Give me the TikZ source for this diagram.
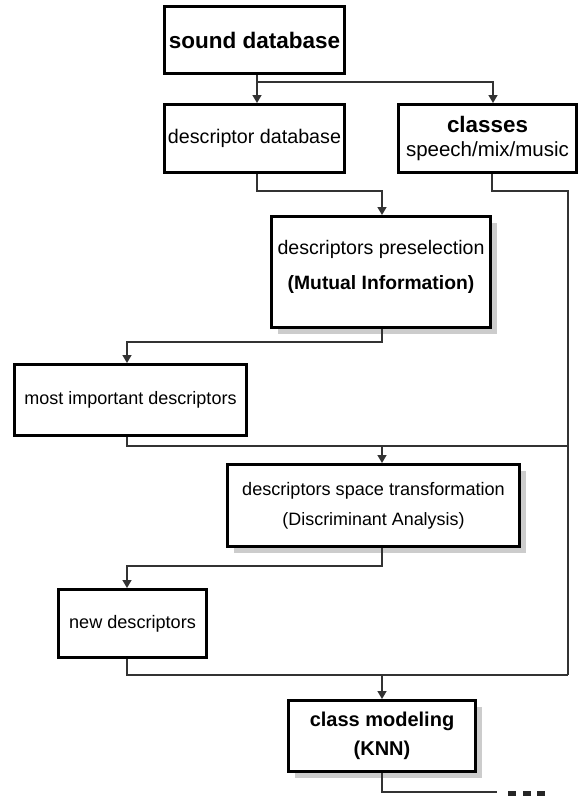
\documentclass[tikz,border=0pt]{standalone}
\usepackage{fontspec}
\setmainfont{Liberation Sans}
\usetikzlibrary{arrows.meta,shadows}
\definecolor{connc}{HTML}{333333}
\newcommand{\fs}[1]{\fontsize{#1}{#1}\selectfont}
\begin{document}
\begin{tikzpicture}[x=1pt,y=-1pt,
  box/.style={draw=black,line width=3pt,rectangle,inner sep=0pt,align=center,fill=white},
  shbox/.style={box,drop shadow={shadow xshift=6pt,shadow yshift=-6pt,fill=black!20,opacity=1}},
  line/.style={draw=connc,line width=1.6pt},
  arr/.style={line,-{Triangle[length=8pt,width=9pt]}}]
\useasboundingbox (0,0) rectangle (579,796);

% boxes
\node[box,minimum width=180pt,minimum height=67pt] (sound) at (254.5,40)
  {\fs{22.5}\bfseries sound database};
\node[box,minimum width=180pt,minimum height=68pt] (descdb) at (254.5,138.5)
  {\fs{19.7}descriptor database};
\node[box,minimum width=178pt,minimum height=68pt] (classes) at (487.5,138.5)
  {\fs{22.4}\bfseries classes\\[7pt]\fs{20.5}speech/mix/music};
\node[shbox,minimum width=219pt,minimum height=111pt] (presel) at (381,272)
  {\fs{19.6}descriptors preselection\\[16pt]\fs{19.3}\bfseries (Mutual Information)\\[2pt]\mbox{}};
\node[box,minimum width=232pt,minimum height=71pt] (mostimp) at (130.5,400)
  {\fs{18}most important descriptors};
\node[shbox,minimum width=292pt,minimum height=82pt] (DA) at (373.5,505.5)
  {\fs{18.1}descriptors space transformation\\[12pt]\fs{17.9}(Discriminant Analysis)};
\node[box,minimum width=148pt,minimum height=68pt] (newdesc) at (132.5,623.5)
  {\fs{18.1}new descriptors};
\node[shbox,minimum width=187pt,minimum height=71pt] (classmod) at (382,736)
  {\fs{20}\bfseries class modeling\\[9pt]\fs{20}\bfseries (KNN)};

% entry / exit points
\coordinate (soundout) at ([xshift=2.5pt]sound.south);
\coordinate (descin) at ([xshift=2.5pt]descdb.north);
\coordinate (descout) at ([xshift=2.5pt]descdb.south);
\coordinate (classin) at ([xshift=5.5pt]classes.north);
\coordinate (classout) at ([xshift=4.5pt]classes.south);
\coordinate (preselin) at ([xshift=1pt]presel.north);
\coordinate (preselout) at ([xshift=1pt]presel.south);
\coordinate (mostin) at ([xshift=-3.5pt]mostimp.north);
\coordinate (mostout) at ([xshift=-3.5pt]mostimp.south);
\coordinate (DAin) at ([xshift=8.5pt]DA.north);
\coordinate (DAout) at ([xshift=8.5pt]DA.south);
\coordinate (newin) at ([xshift=-5.5pt]newdesc.north);
\coordinate (newout) at ([xshift=-5.5pt]newdesc.south);
\coordinate (cmin) at (classmod.north);
\coordinate (cmout) at (classmod.south);
\coordinate (rtop) at (568,191);
\coordinate (rbot) at (568,675);
\coordinate (tail) at (497,792);

% connectors
\draw[arr] (soundout) -- (descin);
\draw[arr] (soundout) -- ++(0,7) -| (classin);
\draw[arr] (descout) -- ++(0,17) -| (preselin);
\draw[line] (classout) |- (rtop) -- (rbot);
\draw[arr] (preselout) -- ++(0,13) -| (mostin);
\draw[line] (mostout) -- ++(0,9) coordinate (m1) -- (m1 -| rtop);
\draw[arr] (DAin |- m1) -- (DAin);
\draw[arr] (DAout) -- ++(0,18) -| (newin);
\draw[line] (newout) |- (rbot);
\draw[arr] (cmin |- rbot) -- (cmin);
\draw[line] (cmout) |- (tail);

% cut-off marks at the bottom edge
\fill[black!85] (508,791) rectangle (516,796);
\fill[black!85] (523,791) rectangle (531,796);
\fill[black!85] (537,791) rectangle (545,796);
\end{tikzpicture}
\end{document}
